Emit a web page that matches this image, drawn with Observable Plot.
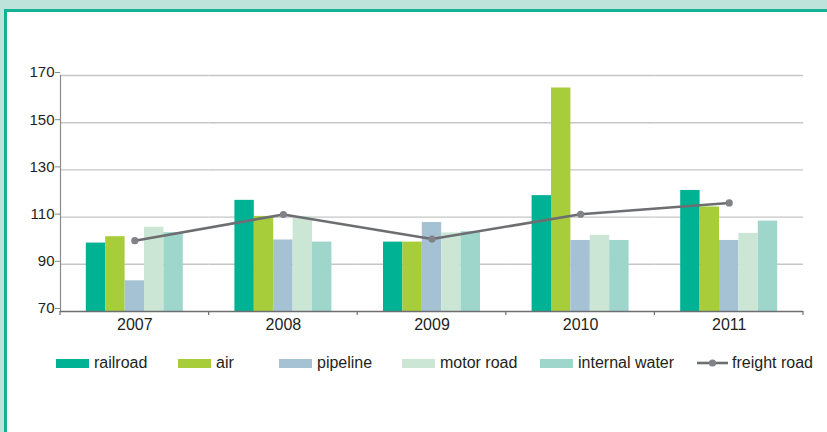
<!DOCTYPE html>
<html>
<head>
<meta charset="utf-8">
<script src="https://cdn.jsdelivr.net/npm/d3@7"></script>
<script src="https://cdn.jsdelivr.net/npm/@observablehq/plot@0.6"></script>
<style>
  html, body { margin: 0; padding: 0; }
  body { width: 827px; height: 432px; overflow: hidden; background: #bde3da; position: relative;
         font-family: "Liberation Sans", Arial, sans-serif; }
  #panel { position: absolute; left: 4px; top: 9px; width: 840px; height: 440px; background: #fff;
           border-top: 3px solid #12b395; border-left: 3px solid #12b395; }
  #chart { position: absolute; left: 0; top: 0; width: 827px; height: 340px; }
  #chart svg { position: absolute; left: 0; top: 0; background: transparent; }
  #legend { position: absolute; left: 0; top: 352px; width: 827px; height: 22px; }
  .item { position: absolute; top: 0; height: 22px; display: flex; align-items: center;
          font-size: 16px; color: #231f20; white-space: nowrap; }
  .sw { width: 33px; height: 9px; margin-right: 5px; }
</style>
</head>
<body>
<div id="panel"></div>
<div id="chart"></div>
<div id="legend"></div>
<script>
const years = ["2007", "2008", "2009", "2010", "2011"];
const seriesNames = ["railroad", "air", "pipeline", "motor road", "internal water"];
const railroad      = [99.0, 117.1, 99.4, 119.1, 121.3];
const air           = [101.7, 110.3, 99.4, 164.7, 114.3];
const pipeline      = [83.0, 100.3, 107.7, 100.1, 100.1];
const motorRoad     = [105.7, 110.3, 103.3, 102.3, 103.1];
const internalWater = [103.4, 99.4, 103.8, 100.1, 108.3];
const freightRoad   = [100.0, 111.1, 100.7, 111.2, 116.0];
const lineName = "freight road";
const yTicks = [70, 90, 110, 130, 150, 170];

const colors = ["#00b294", "#a8cd3a", "#a4c2d3", "#cce6d6", "#9ed6cc"];
const lineColor = "#6d6e71";
const dotColor = "#808285";

const seriesValues = [railroad, air, pipeline, motorRoad, internalWater];
const table = [];
years.forEach((yr, i) => seriesNames.forEach((s, j) => table.push({year: yr, series: s, value: seriesValues[j][i]})));
const lineTable = years.map((yr, i) => ({year: yr, value: freightRoad[i]}));

const W = 827, H = 340, ML = 60, MR = 24, MT = 75, MB = 29;
const yBase = yTicks[0];

// Layer 1: grid + grouped bars (faceted by year)
const bars = Plot.plot({
  width: W, height: H, marginLeft: ML, marginRight: MR, marginTop: MT, marginBottom: MB,
  style: {background: "transparent", overflow: "visible"},
  fx: {domain: years, padding: 0, round: false, axis: null},
  x: {domain: seriesNames, paddingInner: 0, paddingOuter: 1.33, round: false, axis: null},
  y: {domain: [yBase, yTicks[yTicks.length - 1]], axis: null},
  color: {domain: seriesNames, range: colors},
  marks: [
    Plot.ruleY(yTicks.slice(1), {stroke: "#c6c6c6", strokeWidth: 1.4}),
    Plot.barY(table, {fx: "year", x: "series", y1: yBase, y2: "value", fill: "series"})
  ]
});

// Layer 2: axes + freight road line
const boundaryTicks = (index, scales, values, dimensions) => {
  const g = d3.create("svg:g");
  const x = scales.x;
  const starts = years.map(y => x(y));
  const step = starts[1] - starts[0];
  const edges = [...starts, starts[starts.length - 1] + step];
  const yb = scales.y(yBase);
  edges.forEach(e => g.append("line").attr("x1", e).attr("x2", e).attr("y1", yb).attr("y2", yb + 4)
    .attr("stroke", "#6d6e71").attr("stroke-width", 1.2));
  return g.node();
};

const overlay = Plot.plot({
  width: W, height: H, marginLeft: ML, marginRight: MR, marginTop: MT, marginBottom: MB,
  style: {background: "transparent", overflow: "visible", fontFamily: "'Liberation Sans', Arial, sans-serif"},
  x: {type: "band", domain: years, padding: 0, round: false},
  y: {domain: [yBase, yTicks[yTicks.length - 1]]},
  marks: [
    Plot.axisY(yTicks, {tickSize: 5, tickPadding: 1, fontSize: 15, dy: -3, label: null,
                        stroke: "#8a8a8a", fill: "#231f20"}),
    Plot.axisX({tickSize: 0, tickPadding: 7, fontSize: 16, label: null, fill: "#231f20"}),
    Plot.frame({anchor: "left", stroke: "#8a8a8a", strokeWidth: 1.2}),
    Plot.ruleY([yBase], {stroke: "#6d6e71", strokeWidth: 1.5}),
    boundaryTicks,
    Plot.line(lineTable, {x: "year", y: "value", stroke: lineColor, strokeWidth: 2.6}),
    Plot.dot(lineTable, {x: "year", y: "value", r: 3.6, fill: dotColor, stroke: "none"})
  ]
});

const chart = document.getElementById("chart");
chart.appendChild(bars);
chart.appendChild(overlay);

// Legend
const legendLeft = [56, 178, 279, 402, 540, 697];
const legend = document.getElementById("legend");
seriesNames.forEach((s, i) => {
  const it = document.createElement("div");
  it.className = "item";
  it.style.left = legendLeft[i] + "px";
  const sw = document.createElement("div");
  sw.className = "sw";
  sw.style.background = colors[i];
  it.appendChild(sw);
  it.appendChild(document.createTextNode(s));
  legend.appendChild(it);
});
{
  const it = document.createElement("div");
  it.className = "item";
  it.style.left = legendLeft[5] + "px";
  it.innerHTML = `<svg width="31" height="12" style="margin-right:4px"><line x1="0" x2="31" y1="6" y2="6" stroke="${lineColor}" stroke-width="2.6"/><circle cx="15.5" cy="6" r="3.6" fill="${dotColor}"/></svg>`;
  it.appendChild(document.createTextNode(lineName));
  legend.appendChild(it);
}
</script>
</body>
</html>
